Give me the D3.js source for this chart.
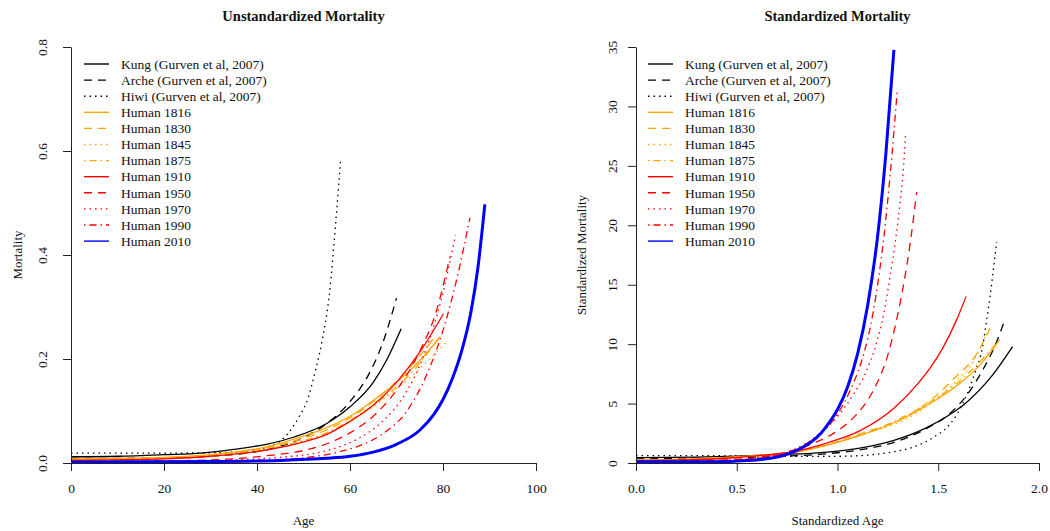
<!DOCTYPE html>
<html>
<head>
<meta charset="utf-8">
<script src="https://cdn.jsdelivr.net/npm/d3@7"></script>
<style>
  html, body { margin: 0; padding: 0; background: #fff; }
  svg { display: block; }
  text { font-family: "Liberation Serif", "Times New Roman", serif; fill: #111; }
</style>
</head>
<body>
<svg id="chart" width="1050" height="531"></svg>
<script>
// ---------------- DATA ----------------
const legendLabels = [
  "Kung (Gurven et al, 2007)", "Arche (Gurven et al, 2007)", "Hiwi (Gurven et al, 2007)",
  "Human 1816", "Human 1830", "Human 1845", "Human 1875",
  "Human 1910", "Human 1950", "Human 1970", "Human 1990", "Human 2010"
];

const leftTitle = "Unstandardized Mortality";
const rightTitle = "Standardized Mortality";
const leftXLabel = "Age", leftYLabel = "Mortality";
const rightXLabel = "Standardized Age", rightYLabel = "Standardized Mortality";

const leftXTicks = [0, 20, 40, 60, 80, 100];
const leftYTicks = [0, 0.2, 0.4, 0.6, 0.8];
const leftYTickLabels = ["0.0", "0.2", "0.4", "0.6", "0.8"];
const rightXTicks = [0, 0.5, 1.0, 1.5, 2.0];
const rightXTickLabels = ["0.0", "0.5", "1.0", "1.5", "2.0"];
const rightYTicks = [0, 5, 10, 15, 20, 25, 30, 35];

// Unstandardized: [age, mortality]
const kungL = [[0,0.012],[10,0.013],[20,0.016],[28,0.019],[35,0.026],[42,0.036],[48,0.05],[55,0.076],[60,0.108],[65,0.155],[68,0.2],[71,0.258]];
const archeL = [[0,0.009],[10,0.009],[20,0.010],[30,0.013],[40,0.022],[45,0.032],[50,0.049],[55,0.076],[60,0.118],[64,0.17],[67,0.23],[70,0.317]];
const hiwiL = [[0,0.019],[20,0.019],[32,0.02],[38,0.023],[42,0.03],[46,0.05],[49,0.088],[51,0.125],[52.5,0.175],[54,0.235],[55.5,0.32],[57,0.47],[58,0.586]];
const h1816L = [[0,0.008],[10,0.009],[20,0.011],[30,0.016],[42,0.031],[48,0.046],[55,0.068],[60,0.09],[66,0.127],[73.5,0.183],[79,0.238]];
const h1830L = [[0,0.007],[10,0.008],[20,0.01],[30,0.015],[42,0.029],[48,0.042],[55,0.064],[60,0.087],[66,0.125],[72,0.175],[78.3,0.243]];
const h1845L = [[0,0.007],[10,0.008],[20,0.01],[30,0.014],[42,0.027],[48,0.039],[55,0.058],[60,0.08],[66,0.115],[73,0.165],[80.7,0.232]];
const h1875L = [[0,0.006],[10,0.007],[20,0.009],[30,0.013],[42,0.026],[48,0.038],[55,0.058],[60,0.082],[66,0.118],[73,0.172],[79.5,0.245]];
const h1910L = [[0,0.005],[10,0.006],[20,0.008],[30,0.013],[42,0.025],[48,0.036],[55,0.055],[60,0.08],[65,0.111],[70,0.155],[75,0.213],[80.1,0.287]];
const h1950L = [[0,0.003],[20,0.004],[35,0.008],[42,0.014],[50,0.024],[55,0.037],[60,0.058],[65,0.09],[70,0.14],[75,0.215],[78.5,0.29],[81.5,0.397]];
const h1970L = [[0,0.003],[20,0.003],[35,0.006],[45,0.011],[52,0.018],[57,0.029],[62,0.048],[67,0.08],[72,0.135],[76,0.21],[79.5,0.31],[82.7,0.438]];
const h1990L = [[0,0.002],[20,0.002],[40,0.005],[50,0.01],[57,0.02],[62,0.033],[67,0.056],[72,0.097],[76.5,0.17],[80,0.255],[83,0.355],[85.8,0.472]];
const h2010L = [[0,0.002],[30,0.003],[45,0.005],[55,0.009],[60,0.013],[65,0.021],[70,0.036],[75,0.063],[78,0.093],[80,0.122],[82,0.162],[84,0.215],[86,0.29],[87.5,0.375],[89,0.4975]];

// Standardized: [standardized age, standardized mortality]
const kungR = [[0,0.45],[0.3,0.5],[0.5,0.58],[0.7,0.7],[0.95,0.92],[1.11,1.25],[1.28,1.9],[1.44,2.95],[1.55,4.0],[1.64,5.1],[1.76,7.2],[1.869,9.8]];
const archeR = [[0,0.35],[0.3,0.38],[0.5,0.45],[0.7,0.55],[0.96,0.8],[1.11,1.1],[1.31,1.9],[1.43,2.8],[1.56,4.2],[1.65,5.9],[1.72,7.8],[1.79,10.2],[1.831,12.1]];
const hiwiR = [[0,0.62],[0.4,0.61],[0.7,0.58],[0.9,0.55],[1.05,0.58],[1.2,0.75],[1.28,0.95],[1.36,1.25],[1.48,2.2],[1.56,3.3],[1.63,5.3],[1.68,7.5],[1.72,9.8],[1.74,12.0],[1.757,14.0],[1.773,16.2],[1.79,18.6]];
const h1816R = [[0,0.25],[0.2,0.3],[0.45,0.47],[0.6,0.62],[0.78,0.88],[0.95,1.5],[1.11,2.3],[1.27,3.3],[1.45,4.9],[1.6,6.6],[1.71,8.3],[1.806,10.4]];
const h1830R = [[0,0.25],[0.2,0.3],[0.45,0.47],[0.6,0.64],[0.78,0.92],[0.95,1.55],[1.11,2.45],[1.33,3.8],[1.46,5.25],[1.59,7.3],[1.68,8.9],[1.757,11.33]];
const h1845R = [[0,0.25],[0.2,0.3],[0.45,0.46],[0.6,0.62],[0.78,0.9],[0.95,1.52],[1.11,2.4],[1.33,3.6],[1.46,5.0],[1.59,6.9],[1.68,8.7],[1.732,10.6]];
const h1875R = [[0,0.24],[0.2,0.29],[0.45,0.46],[0.6,0.62],[0.78,0.9],[0.95,1.52],[1.11,2.35],[1.27,3.4],[1.45,5.05],[1.6,6.8],[1.7,8.4],[1.79,10.1]];
const h1910R = [[0,0.2],[0.2,0.25],[0.45,0.4],[0.6,0.6],[0.78,0.95],[0.95,1.7],[1.11,2.7],[1.28,4.6],[1.4,6.7],[1.46,8.0],[1.52,9.6],[1.59,12.0],[1.638,14.0]];
const h1950R = [[0,0.15],[0.3,0.2],[0.5,0.3],[0.6,0.45],[0.7,0.75],[0.8,1.15],[0.9,1.8],[1.0,2.7],[1.06,3.5],[1.13,4.8],[1.19,6.5],[1.25,9.1],[1.29,11.8],[1.33,15.2],[1.36,18.4],[1.393,22.8]];
const h1970R = [[0,0.15],[0.3,0.18],[0.5,0.28],[0.6,0.42],[0.7,0.7],[0.8,1.25],[0.9,2.3],[1.0,3.9],[1.08,5.8],[1.14,7.6],[1.19,9.9],[1.23,12.6],[1.26,15.6],[1.29,19.0],[1.31,21.8],[1.325,24.3],[1.338,27.7]];
const h1990R = [[0,0.15],[0.3,0.17],[0.5,0.25],[0.6,0.38],[0.7,0.65],[0.8,1.2],[0.9,2.3],[1.0,4.1],[1.06,6.0],[1.12,8.6],[1.16,11.2],[1.19,14.0],[1.23,19.0],[1.26,24.0],[1.297,31.4]];
const h2010R = [[0,0.1],[0.3,0.1],[0.466,0.13],[0.55,0.2],[0.632,0.32],[0.7,0.5],[0.764,0.82],[0.82,1.25],[0.864,1.7],[0.92,2.55],[0.963,3.5],[1.0,4.5],[1.05,6.4],[1.1,9.2],[1.15,13.3],[1.2,19.2],[1.24,26.0],[1.28,34.75]];

const leftData = [kungL, archeL, hiwiL, h1816L, h1830L, h1845L, h1875L, h1910L, h1950L, h1970L, h1990L, h2010L];
const rightData = [kungR, archeR, hiwiR, h1816R, h1830R, h1845R, h1875R, h1910R, h1950R, h1970R, h1990R, h2010R];

// ---------------- STYLE ----------------
const DASH = { solid: null, dashed: "8,6", dotted: "1.5,4", dotdash: "1.5,4,7,4" };
const styles = [
  { color: "#000000", lty: "solid" }, { color: "#000000", lty: "dashed" }, { color: "#000000", lty: "dotted" },
  { color: "#FFA500", lty: "solid" }, { color: "#FFA500", lty: "dashed" }, { color: "#FFA500", lty: "dotted" }, { color: "#FFA500", lty: "dotdash" },
  { color: "#FF0000", lty: "solid" }, { color: "#FF0000", lty: "dashed" }, { color: "#FF0000", lty: "dotted" }, { color: "#FF0000", lty: "dotdash" },
  { color: "#0000FF", lty: "solid", lw: 3 }
];

const svg = d3.select("#chart");
const FONT = 13.5;

function panel(cfg) {
  const x = d3.scaleLinear().domain(cfg.xDomain).range(cfg.xRange);
  const y = d3.scaleLinear().domain(cfg.yDomain).range([463, 47]);
  const g = svg.append("g");

  const line = d3.line().x(d => x(d[0])).y(d => y(d[1])).curve(d3.curveMonotoneX);
  cfg.data.forEach((ser, i) => {
    const s = styles[i];
    g.append("path").datum(ser)
      .attr("d", line)
      .attr("fill", "none")
      .attr("stroke", s.color)
      .attr("stroke-width", s.lw || 1.3)
      .attr("stroke-dasharray", DASH[s.lty])
      .attr("stroke-linejoin", "round");
  });

  const xa = g.append("g").attr("transform", `translate(0,${y(cfg.yDomain[0])})`)
    .call(d3.axisBottom(x).tickValues(cfg.xTicks).tickFormat((d, i) => cfg.xTickLabels[i]).tickSize(8).tickSizeOuter(0));
  xa.select(".domain").attr("stroke", "#222");
  xa.selectAll(".tick line").attr("stroke", "#222");
  xa.selectAll("text").attr("y", 20).attr("dy", "0.71em").style("font-size", FONT + "px").style("font-family", "Liberation Serif");

  const ya = g.append("g").attr("transform", `translate(${x(cfg.xDomain[0])},0)`)
    .call(d3.axisLeft(y).tickValues(cfg.yTicks).tickFormat((d, i) => cfg.yTickLabels[i]).tickSize(8).tickSizeOuter(0));
  ya.select(".domain").attr("stroke", "#222");
  ya.selectAll(".tick line").attr("stroke", "#222");
  ya.selectAll("text")
    .attr("transform", "rotate(-90)")
    .attr("x", 0).attr("y", cfg.yLabOff).attr("dy", "0.35em")
    .attr("text-anchor", "middle")
    .style("font-size", FONT + "px").style("font-family", "Liberation Serif");

  const cx = (cfg.xRange[0] + cfg.xRange[1]) / 2;
  g.append("text").attr("x", cx).attr("y", 21).attr("text-anchor", "middle")
    .style("font-size", "14.5px").style("font-weight", "bold").text(cfg.title);
  g.append("text").attr("x", cx).attr("y", 525).attr("text-anchor", "middle")
    .style("font-size", "13px").text(cfg.xLabel);
  g.append("text").attr("transform", `translate(${cfg.yTitleX},255) rotate(-90)`)
    .attr("text-anchor", "middle").attr("dy", "0.35em")
    .style("font-size", "13px").text(cfg.yLabel);

  const lg = g.append("g");
  legendLabels.forEach((lab, i) => {
    const s = styles[i];
    const yy = 64 + i * 16.1;
    lg.append("line").attr("x1", cfg.legX).attr("x2", cfg.legX + 25).attr("y1", yy).attr("y2", yy)
      .attr("stroke", s.color).attr("stroke-width", 1.4).attr("stroke-dasharray", DASH[s.lty]);
    lg.append("text").attr("x", cfg.legX + 37).attr("y", yy).attr("dy", "0.35em")
      .style("font-size", FONT + "px").text(lab);
  });
}

panel({
  data: leftData, xDomain: [0, 100], xRange: [71, 536], yDomain: [0, 0.8],
  xTicks: leftXTicks, xTickLabels: leftXTicks.map(String),
  yTicks: leftYTicks, yTickLabels: leftYTickLabels,
  yLabOff: -29, yTitleX: 17.5, legX: 84,
  title: leftTitle, xLabel: leftXLabel, yLabel: leftYLabel
});

panel({
  data: rightData, xDomain: [0, 2], xRange: [636, 1039], yDomain: [0, 35],
  xTicks: rightXTicks, xTickLabels: rightXTickLabels,
  yTicks: rightYTicks, yTickLabels: rightYTicks.map(String),
  yLabOff: -24, yTitleX: 581, legX: 648,
  title: rightTitle, xLabel: rightXLabel, yLabel: rightYLabel
});
</script>
</body>
</html>
